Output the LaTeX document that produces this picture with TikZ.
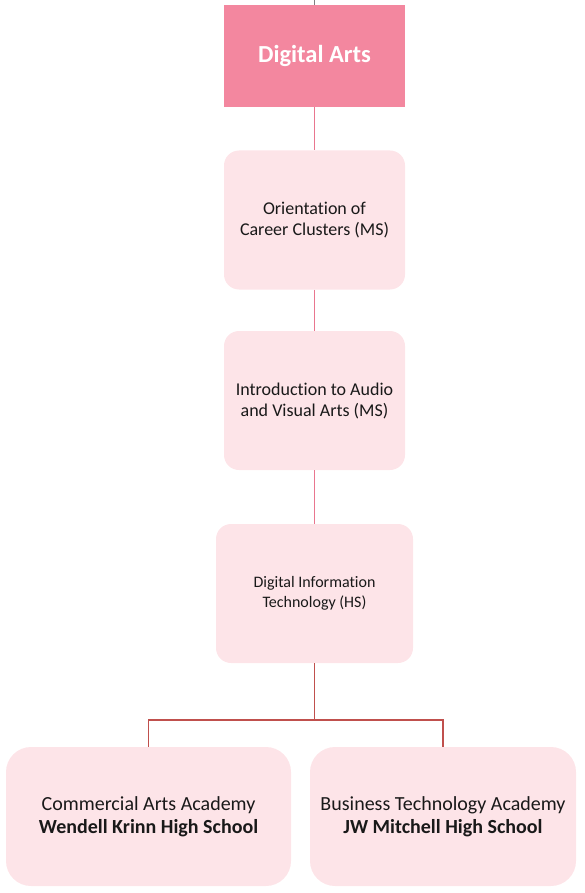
\documentclass[tikz,border=0pt]{standalone}
\usepackage{fontspec}
\setmainfont[Ligatures=NoCommon]{Carlito}
\definecolor{headpink}{HTML}{F3879F}
\definecolor{boxpink}{HTML}{FDE4E8}
\definecolor{linkpink}{HTML}{E9768F}
\definecolor{linkred}{HTML}{C0504D}
\begin{document}
\begin{tikzpicture}[x=1pt, y=-1pt,
    every node/.style={inner sep=0pt, align=center, text=black!90},
    head/.style={fill=headpink, minimum width=181pt, minimum height=102pt,
                 text=white, font=\bfseries\fontsize{24.5}{28}\selectfont},
    course/.style={fill=boxpink, rounded corners=15pt, minimum height=139pt},
    academy/.style={fill=boxpink, rounded corners=25pt, minimum height=139pt,
                    font=\fontsize{20}{23}\selectfont},
    link/.style={linkpink, line width=1.2pt},
    fork/.style={linkred, line width=1.3pt}]
  \useasboundingbox (0,0) rectangle (584,893);
  \coordinate (top) at (314.5,0);
  \node[head] (da) at (314.5,56) {Digital Arts};
  \node[course, minimum width=181pt, font=\fontsize{18}{21}\selectfont] (occ) at (314.5,220)
    {Orientation of\\Career Clusters (MS)};
  \node[course, minimum width=181pt, font=\fontsize{18}{21}\selectfont] (iav) at (314.5,400.5)
    {Introduction to Audio\\and Visual Arts (MS)};
  \node[course, minimum width=197pt, font=\fontsize{16}{20}\selectfont] (dit) at (314.5,593.5)
    {Digital Information\\Technology (HS)};
  \node[academy, minimum width=285pt] (cwa) at (148.5,816.5)
    {Commercial Arts Academy\\\textbf{Wendell Krinn High School}};
  \node[academy, minimum width=266pt] (btj) at (443,816.5)
    {Business Technology Academy\\\textbf{JW Mitchell High School}};
  \coordinate (split) at (314.5,720);
  \draw[gray, line width=1.2pt] (top) -- (da);
  \draw[link] (da) -- (occ);
  \draw[link] (occ) -- (iav);
  \draw[link] (iav) -- (dit);
  \draw[fork] (dit) -- (split);
  \draw[fork] (cwa.north) |- (split) -| (btj.north);
\end{tikzpicture}
\end{document}
